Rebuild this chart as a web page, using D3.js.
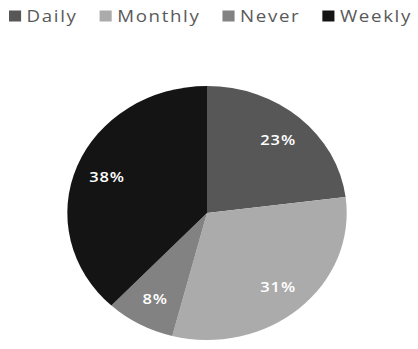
<!DOCTYPE html>
<html>
<head>
<meta charset="utf-8">
<script src="https://cdn.jsdelivr.net/npm/d3@7"></script>
<style>
  html, body { margin: 0; padding: 0; background: #fff; }
  svg { display: block; }
</style>
</head>
<body>
<svg id="chart" width="418" height="349"></svg>
<script>
// Survey frequency breakdown
const categories = ["Daily", "Monthly", "Never", "Weekly"];
const shares = [23, 31, 8, 38];
const colors = ["#575757", "#ababab", "#828282", "#141414"];

const width = 418, height = 349;
const stretchX = 1.1;          // horizontal aspect of the drawing
const radius = 127;
const cx = 207 / stretchX, cy = 213;

const svg = d3.select("#chart");
const root = svg.append("g").attr("transform", `scale(${stretchX},1)`);

const color = d3.scaleOrdinal().domain(categories).range(colors);

const pie = d3.pie().sort(null).value(d => d.value);
const data = categories.map((c, i) => ({ name: c, value: shares[i] }));
const arcs = pie(data);

const arc = d3.arc().innerRadius(0).outerRadius(radius);
const labelArc = d3.arc().innerRadius(radius * 0.77).outerRadius(radius * 0.77);

const g = root.append("g").attr("transform", `translate(${cx},${cy})`);

g.selectAll("path")
  .data(arcs)
  .join("path")
  .attr("d", arc)
  .attr("fill", d => color(d.data.name));

g.selectAll("text")
  .data(arcs)
  .join("text")
  .attr("transform", d => `translate(${labelArc.centroid(d)})`)
  .attr("text-anchor", "middle")
  .attr("dy", "0.35em")
  .attr("fill", "#ffffff")
  .attr("font-family", "'Open Sans', sans-serif")
  .attr("font-size", 15)
  .attr("font-weight", 600)
  .attr("letter-spacing", 0.8)
  .text(d => d.data.value + "%");

// Legend across the top
const legend = root.append("g").attr("transform", `translate(${9 / stretchX},16)`);
let x = 0;
categories.forEach(name => {
  const item = legend.append("g").attr("transform", `translate(${x},0)`);
  item.append("rect")
    .attr("x", 0).attr("y", -5.5)
    .attr("width", 11).attr("height", 11)
    .attr("fill", color(name));
  const t = item.append("text")
    .attr("x", 16).attr("y", 0).attr("dy", "0.35em")
    .attr("fill", "#595959")
    .attr("font-family", "'Open Sans', sans-serif")
    .attr("font-size", 17)
    .attr("letter-spacing", 1.5)
    .text(name);
  x += 16 + t.node().getComputedTextLength() + 20;
});
</script>
</body>
</html>
